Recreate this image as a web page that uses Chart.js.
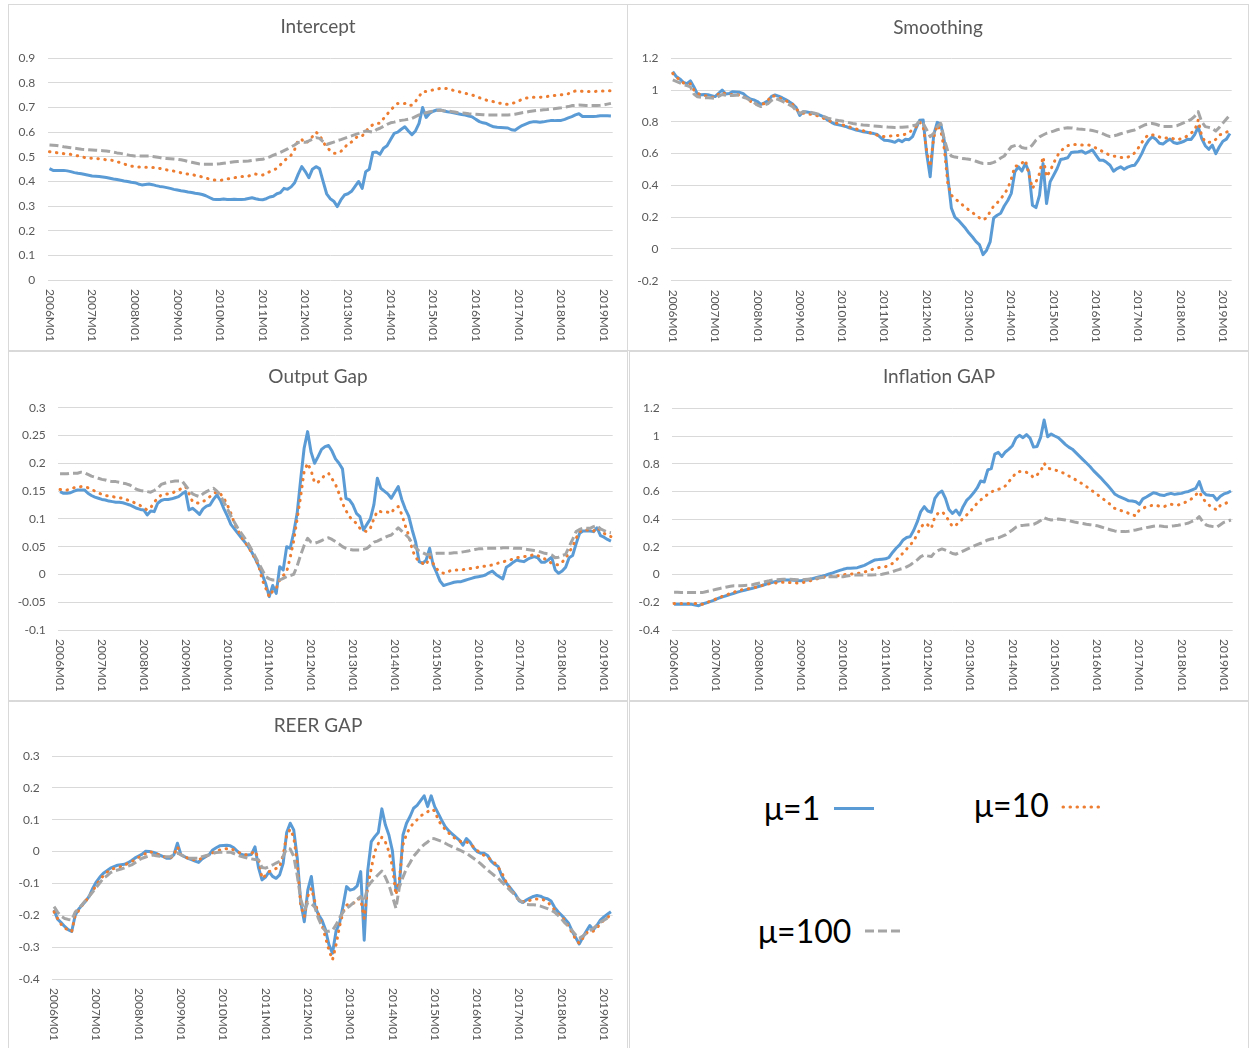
<!DOCTYPE html>
<html>
<head>
<meta charset="utf-8">
<script src="https://cdn.jsdelivr.net/npm/chart.js@4.4.1/dist/chart.umd.min.js"></script>
<style>
  html, body { margin: 0; padding: 0; background: #fff; }
  body { width: 1250px; height: 1048px; position: relative; overflow: hidden; font-family: Lato, "Open Sans", sans-serif; }
  .panel { position: absolute; box-sizing: border-box; border: 1px solid #D9D9D9; background: #fff; }
  .panel canvas { position: absolute; left: 0; top: 0; }
  .panel svg { position: absolute; left: 0; top: 0; }
</style>
</head>
<body>
<script>
// ---------------------------------------------------------------------------
// Monthly categories 2006M01 .. 2019M03
const FIRST_YEAR = 2006;
const MONTH_COUNT = 159;
const MONTHS = Array.from({ length: MONTH_COUNT }, (_, i) =>
  `${FIRST_YEAR + Math.floor(i / 12)}M${String((i % 12) + 1).padStart(2, '0')}`);

// Labels shown under each panel (one per January)
const AXIS_LABELS = ['2006M01', '2007M01', '2008M01', '2009M01', '2010M01', '2011M01', '2012M01',
  '2013M01', '2014M01', '2015M01', '2016M01', '2017M01', '2018M01', '2019M01'];

const SERIES_LABELS = ['μ=1', 'μ=10', 'μ=100'];

// ---------------------------------------------------------------------------
// Intercept
const interceptMu1 = [
  0.452, 0.445, 0.445, 0.445, 0.445, 0.443, 0.44, 0.436, 0.433, 0.431, 0.428, 0.425,
  0.422, 0.421, 0.42, 0.418, 0.416, 0.413, 0.41, 0.408, 0.405, 0.402, 0.4, 0.397,
  0.395, 0.39, 0.386, 0.388, 0.39, 0.387, 0.383, 0.38, 0.378, 0.375, 0.372, 0.368,
  0.365, 0.362, 0.36, 0.357, 0.355, 0.352, 0.35, 0.347, 0.342, 0.335, 0.328, 0.327,
  0.327, 0.329, 0.327, 0.327, 0.328, 0.327, 0.327, 0.328, 0.331, 0.334, 0.33, 0.327,
  0.326, 0.33, 0.337, 0.34, 0.35, 0.355, 0.372, 0.368, 0.378, 0.395, 0.43, 0.46,
  0.44, 0.415, 0.45, 0.46, 0.452, 0.4, 0.35, 0.33, 0.32, 0.298, 0.325, 0.345,
  0.35, 0.36, 0.38, 0.4, 0.372, 0.44, 0.45, 0.518, 0.52, 0.51, 0.535, 0.545,
  0.57, 0.595, 0.6, 0.612, 0.622, 0.605, 0.59, 0.605, 0.636, 0.7, 0.66, 0.677,
  0.685, 0.69, 0.69, 0.686, 0.683, 0.681, 0.678, 0.675, 0.672, 0.67, 0.666, 0.662,
  0.652, 0.643, 0.638, 0.635, 0.628, 0.622, 0.62, 0.619, 0.618, 0.617, 0.61, 0.608,
  0.618, 0.627, 0.633, 0.639, 0.642, 0.642, 0.64, 0.642, 0.645, 0.647, 0.647, 0.648,
  0.648, 0.652, 0.658, 0.663, 0.67, 0.675, 0.664, 0.664, 0.664, 0.664, 0.665, 0.667,
  0.667, 0.667, 0.666
];
const interceptMu10 = [
  0.521, 0.519, 0.517, 0.515, 0.513, 0.511, 0.51, 0.507, 0.504, 0.5, 0.497, 0.495,
  0.494, 0.493, 0.492, 0.49, 0.488, 0.487, 0.485, 0.48, 0.476, 0.471, 0.466, 0.462,
  0.46, 0.459, 0.459, 0.458, 0.458, 0.457, 0.457, 0.453, 0.45, 0.447, 0.444, 0.442,
  0.44, 0.435, 0.432, 0.43, 0.428, 0.425, 0.422, 0.418, 0.414, 0.41, 0.406, 0.405,
  0.405, 0.406, 0.41, 0.412, 0.415, 0.418, 0.42, 0.42, 0.422, 0.427, 0.43, 0.428,
  0.426, 0.433, 0.44, 0.446, 0.453, 0.468, 0.483, 0.495, 0.507, 0.53, 0.568, 0.57,
  0.555, 0.565, 0.582, 0.6, 0.59, 0.56, 0.54, 0.525, 0.515, 0.515, 0.522, 0.535,
  0.555, 0.56, 0.575, 0.585, 0.585, 0.6, 0.622, 0.63, 0.636, 0.636, 0.655, 0.672,
  0.69, 0.704, 0.717, 0.717, 0.717, 0.708, 0.71, 0.725, 0.745, 0.765, 0.765, 0.768,
  0.772, 0.775, 0.778, 0.778, 0.777, 0.773, 0.768, 0.765, 0.762, 0.758, 0.754, 0.751,
  0.745, 0.74, 0.735, 0.73, 0.727, 0.724, 0.72, 0.717, 0.714, 0.713, 0.716, 0.72,
  0.727, 0.733, 0.738, 0.74, 0.742, 0.742, 0.742, 0.743, 0.745, 0.747, 0.749, 0.751,
  0.752, 0.754, 0.756, 0.765, 0.767, 0.768, 0.766, 0.765, 0.765, 0.765, 0.766, 0.767,
  0.767, 0.768, 0.768
];
const interceptMu100 = [
  0.548, 0.547, 0.546, 0.544, 0.541, 0.539, 0.537, 0.535, 0.533, 0.531, 0.53, 0.529,
  0.528, 0.527, 0.526, 0.525, 0.524, 0.522, 0.519, 0.516, 0.514, 0.511, 0.508, 0.505,
  0.503, 0.503, 0.503, 0.503, 0.503, 0.501, 0.499, 0.497, 0.494, 0.493, 0.492, 0.491,
  0.49, 0.488, 0.485, 0.481, 0.478, 0.475, 0.472, 0.47, 0.47, 0.47, 0.47, 0.471,
  0.472, 0.474, 0.476, 0.478, 0.48, 0.481, 0.482, 0.482, 0.483, 0.485, 0.487, 0.489,
  0.49, 0.495, 0.5, 0.507, 0.512, 0.518, 0.525, 0.532, 0.54, 0.548, 0.558, 0.56,
  0.559, 0.565, 0.572, 0.578, 0.575, 0.562, 0.55, 0.555, 0.56, 0.566, 0.57, 0.575,
  0.58, 0.585, 0.59, 0.595, 0.6, 0.605, 0.603, 0.6, 0.61, 0.616, 0.624, 0.632,
  0.638, 0.641, 0.645, 0.648, 0.65, 0.653, 0.656, 0.663, 0.67, 0.675, 0.679, 0.683,
  0.686, 0.688, 0.689, 0.687, 0.686, 0.684, 0.682, 0.679, 0.678, 0.677, 0.675, 0.674,
  0.673, 0.672, 0.671, 0.67, 0.67, 0.67, 0.67, 0.67, 0.67, 0.67, 0.671, 0.673,
  0.676, 0.679, 0.681, 0.684, 0.686, 0.688, 0.689, 0.691, 0.692, 0.694, 0.695, 0.697,
  0.699, 0.702, 0.704, 0.708, 0.709, 0.71, 0.709, 0.708, 0.708, 0.708, 0.708, 0.709,
  0.711, 0.714, 0.717
];

// Smoothing
const smoothingMu1 = [
  1.116, 1.085, 1.07, 1.049, 1.04, 1.058, 1.02, 0.975, 0.97, 0.972, 0.97, 0.965,
  0.959, 0.98, 1.0, 0.975, 0.978, 0.99, 0.988, 0.986, 0.978, 0.958, 0.944, 0.938,
  0.928, 0.91, 0.92, 0.932, 0.96, 0.969, 0.962, 0.952, 0.94, 0.927, 0.912, 0.89,
  0.84, 0.864, 0.862, 0.858, 0.852, 0.847, 0.84, 0.828, 0.81, 0.797, 0.786, 0.781,
  0.776, 0.771, 0.763, 0.756, 0.748, 0.743, 0.738, 0.734, 0.73, 0.726, 0.72, 0.7,
  0.684, 0.682, 0.678, 0.671, 0.686, 0.675, 0.69, 0.688, 0.707, 0.76, 0.81, 0.812,
  0.6, 0.455, 0.72, 0.797, 0.785, 0.68, 0.45, 0.258, 0.2, 0.18, 0.155, 0.13,
  0.1, 0.075, 0.046, 0.025, -0.036, -0.008, 0.044, 0.195, 0.212, 0.225, 0.27, 0.305,
  0.35, 0.485, 0.517, 0.49, 0.538, 0.485, 0.275, 0.26, 0.338, 0.538, 0.286, 0.422,
  0.464, 0.506, 0.563, 0.568, 0.574, 0.607, 0.61, 0.612, 0.617, 0.602, 0.612, 0.623,
  0.59, 0.559, 0.559, 0.545, 0.527, 0.489, 0.506, 0.517, 0.502, 0.515, 0.523, 0.527,
  0.559, 0.6, 0.65, 0.685, 0.706, 0.69, 0.665, 0.66, 0.678, 0.691, 0.67, 0.664,
  0.67, 0.678, 0.691, 0.689, 0.72, 0.769, 0.695, 0.65, 0.627, 0.653, 0.6, 0.643,
  0.678, 0.691, 0.727
];
const smoothingMu10 = [
  1.105, 1.08, 1.065, 1.045, 1.04, 1.04, 1.0, 0.98, 0.97, 0.965, 0.96, 0.956,
  0.952, 0.975, 0.985, 0.975, 0.97, 0.972, 0.973, 0.968, 0.96, 0.945, 0.93, 0.918,
  0.908, 0.91, 0.915, 0.935, 0.965, 0.962, 0.952, 0.944, 0.935, 0.92, 0.91, 0.88,
  0.862, 0.854, 0.852, 0.848, 0.845, 0.838, 0.83, 0.82, 0.81, 0.802, 0.795, 0.788,
  0.782, 0.775, 0.768, 0.762, 0.755, 0.75, 0.744, 0.738, 0.731, 0.724, 0.716, 0.708,
  0.707, 0.709, 0.712, 0.713, 0.715, 0.717, 0.722, 0.733, 0.75, 0.77, 0.8, 0.77,
  0.62, 0.518, 0.7, 0.78, 0.745, 0.63, 0.41, 0.339, 0.315, 0.3, 0.28, 0.262,
  0.244, 0.228, 0.212, 0.195, 0.182, 0.196, 0.235, 0.27, 0.29, 0.315, 0.345, 0.38,
  0.44, 0.52, 0.525, 0.54, 0.559, 0.47, 0.38, 0.422, 0.475, 0.58, 0.454, 0.49,
  0.54, 0.585, 0.615, 0.635, 0.65, 0.657, 0.657, 0.656, 0.654, 0.654, 0.654, 0.645,
  0.635, 0.623, 0.612, 0.6, 0.59, 0.585, 0.58, 0.576, 0.574, 0.578, 0.585, 0.605,
  0.635, 0.67, 0.7, 0.72, 0.718, 0.713, 0.705, 0.696, 0.698, 0.7, 0.693, 0.686,
  0.693, 0.7, 0.712, 0.73, 0.745, 0.812, 0.71, 0.675, 0.671, 0.673, 0.69, 0.717,
  0.725, 0.735, 0.745
];
const smoothingMu100 = [
  1.064, 1.055, 1.045, 1.035, 1.028, 1.02, 0.975, 0.958, 0.955, 0.952, 0.951, 0.95,
  0.948, 0.96, 0.972, 0.968, 0.965, 0.966, 0.968, 0.969, 0.955, 0.948, 0.935, 0.922,
  0.905, 0.896, 0.905, 0.915, 0.935, 0.948, 0.94, 0.93, 0.92, 0.908, 0.896, 0.87,
  0.854, 0.864, 0.862, 0.86, 0.856, 0.85, 0.842, 0.832, 0.823, 0.818, 0.812, 0.808,
  0.805, 0.8, 0.795, 0.79, 0.786, 0.783, 0.78, 0.778, 0.776, 0.774, 0.772, 0.77,
  0.769, 0.767, 0.766, 0.765, 0.765, 0.766, 0.768, 0.77, 0.775, 0.78, 0.805, 0.79,
  0.75, 0.707, 0.728, 0.77, 0.79, 0.69, 0.615, 0.585, 0.578, 0.575, 0.57, 0.567,
  0.565, 0.559, 0.552, 0.544, 0.538, 0.538, 0.538, 0.545, 0.555, 0.572, 0.585, 0.615,
  0.643, 0.65, 0.657, 0.638, 0.633, 0.633, 0.655, 0.685, 0.705, 0.717, 0.728, 0.734,
  0.742, 0.75, 0.756, 0.76, 0.763, 0.762, 0.759, 0.755, 0.753, 0.751, 0.749, 0.745,
  0.74, 0.734, 0.725, 0.715, 0.707, 0.712, 0.717, 0.725, 0.732, 0.738, 0.744, 0.749,
  0.76, 0.772, 0.782, 0.787, 0.79, 0.785, 0.777, 0.77, 0.77, 0.77, 0.772, 0.776,
  0.785, 0.795, 0.805, 0.815, 0.835, 0.864, 0.8, 0.77, 0.765, 0.759, 0.742, 0.765,
  0.792, 0.818, 0.843
];

// Output Gap
const outputMu1 = [
  0.149, 0.146, 0.146, 0.147, 0.15, 0.152, 0.152, 0.152, 0.146, 0.142, 0.139, 0.137,
  0.135, 0.134, 0.132, 0.131, 0.13, 0.13, 0.129, 0.127, 0.125, 0.122, 0.119, 0.117,
  0.116, 0.107, 0.114, 0.113, 0.128, 0.133, 0.135, 0.135, 0.136, 0.138, 0.14, 0.145,
  0.149, 0.116, 0.119, 0.114, 0.108, 0.118, 0.123, 0.125, 0.135, 0.143, 0.133, 0.118,
  0.105, 0.09, 0.082, 0.074, 0.066, 0.058, 0.05, 0.04, 0.028, 0.015, 0.0, -0.017,
  -0.04, -0.02, -0.034, 0.014, 0.008, 0.05, 0.047, 0.075, 0.11, 0.17, 0.227, 0.257,
  0.22, 0.2, 0.212, 0.225, 0.23, 0.232, 0.222, 0.208, 0.2, 0.19, 0.137, 0.134,
  0.125, 0.11, 0.104, 0.08, 0.09, 0.1, 0.125, 0.173, 0.155, 0.15, 0.145, 0.137,
  0.148, 0.158, 0.135, 0.118, 0.105, 0.08, 0.058, 0.023, 0.02, 0.026, 0.047, 0.017,
  0.003, -0.012, -0.02, -0.018, -0.016, -0.014, -0.013, -0.013, -0.011, -0.009, -0.007, -0.005,
  -0.004, -0.003, -0.001, 0.003, 0.006, 0.0, -0.004, -0.008, 0.013, 0.017, 0.022, 0.026,
  0.024, 0.023, 0.027, 0.03, 0.032, 0.03, 0.022, 0.022, 0.026, 0.031, 0.008, 0.002,
  0.006, 0.013, 0.03, 0.034, 0.055, 0.074, 0.078, 0.078, 0.078, 0.077, 0.084, 0.07,
  0.067, 0.063, 0.06
];
const outputMu10 = [
  0.153, 0.152, 0.152, 0.154, 0.156, 0.157, 0.158, 0.158, 0.156, 0.153, 0.15, 0.147,
  0.144, 0.142, 0.141, 0.14, 0.139, 0.138, 0.137, 0.135, 0.132, 0.13, 0.127, 0.124,
  0.12, 0.116, 0.12, 0.13, 0.137, 0.143, 0.144, 0.145, 0.146, 0.149, 0.152, 0.155,
  0.158, 0.145, 0.131, 0.129, 0.128, 0.131, 0.135, 0.14, 0.145, 0.149, 0.145, 0.137,
  0.125, 0.11, 0.092, 0.08, 0.068, 0.058, 0.05, 0.038, 0.028, 0.015, -0.01, -0.025,
  -0.04, -0.03, -0.025, -0.01, -0.002, 0.005, 0.03, 0.06, 0.1, 0.14, 0.185, 0.2,
  0.187, 0.165, 0.166, 0.172, 0.179, 0.182, 0.172, 0.162, 0.146, 0.128, 0.115, 0.104,
  0.097, 0.092, 0.083, 0.079, 0.077, 0.083, 0.1, 0.114, 0.113, 0.113, 0.112, 0.11,
  0.12, 0.122, 0.108, 0.088, 0.07, 0.045, 0.03, 0.024, 0.02, 0.017, 0.032, 0.02,
  0.01, 0.005, 0.002, 0.004, 0.007, 0.008, 0.008, 0.008, 0.009, 0.01, 0.011, 0.012,
  0.013, 0.014, 0.015, 0.016, 0.017, 0.019, 0.021, 0.023, 0.024, 0.026, 0.028, 0.03,
  0.031, 0.032, 0.033, 0.034, 0.036, 0.034, 0.031, 0.028, 0.024, 0.02, 0.018, 0.017,
  0.022, 0.029, 0.04, 0.05, 0.065, 0.077, 0.079, 0.08, 0.079, 0.078, 0.084, 0.08,
  0.074, 0.07, 0.068
];
const outputMu100 = [
  0.181, 0.181, 0.181, 0.182, 0.182, 0.182, 0.184, 0.183, 0.18, 0.177, 0.175, 0.173,
  0.171, 0.17, 0.168, 0.167, 0.167, 0.166, 0.164, 0.163, 0.161, 0.157, 0.153, 0.151,
  0.15, 0.149, 0.148, 0.151, 0.155, 0.162, 0.164, 0.166, 0.167, 0.168, 0.168, 0.168,
  0.16, 0.152, 0.145, 0.142, 0.14, 0.145, 0.149, 0.152, 0.155, 0.15, 0.142, 0.13,
  0.118, 0.105, 0.094, 0.083, 0.074, 0.065, 0.055, 0.044, 0.032, 0.02, 0.008, -0.004,
  -0.008, -0.01, -0.01, -0.01, -0.007, -0.004, -0.002, 0.0, 0.015, 0.035, 0.052, 0.065,
  0.058, 0.056, 0.058, 0.061, 0.064, 0.066, 0.063, 0.059, 0.055, 0.05, 0.047, 0.045,
  0.044, 0.044, 0.044, 0.045, 0.047, 0.052, 0.058, 0.06, 0.063, 0.066, 0.069, 0.071,
  0.077, 0.084, 0.078, 0.072, 0.066, 0.056, 0.048, 0.042, 0.039, 0.036, 0.036, 0.037,
  0.038, 0.038, 0.038, 0.038, 0.038, 0.039, 0.039, 0.04, 0.041, 0.042, 0.044, 0.045,
  0.046, 0.046, 0.047, 0.047, 0.047, 0.047, 0.047, 0.048, 0.048, 0.048, 0.047, 0.047,
  0.047, 0.046, 0.045, 0.044, 0.043, 0.042, 0.04, 0.038, 0.037, 0.035, 0.03, 0.031,
  0.034, 0.036, 0.05, 0.063, 0.077, 0.081, 0.083, 0.083, 0.083, 0.086, 0.088, 0.082,
  0.079, 0.076, 0.075
];

// Inflation GAP
const inflationMu1 = [
  -0.215, -0.215, -0.215, -0.215, -0.215, -0.215, -0.22, -0.225, -0.212, -0.205, -0.197, -0.188,
  -0.178, -0.167, -0.159, -0.151, -0.143, -0.135, -0.127, -0.119, -0.113, -0.106, -0.1, -0.093,
  -0.086, -0.079, -0.07, -0.062, -0.056, -0.05, -0.044, -0.039, -0.039, -0.039, -0.041, -0.043,
  -0.044, -0.041, -0.039, -0.032, -0.025, -0.018, -0.012, -0.005, 0.004, 0.012, 0.021, 0.03,
  0.038, 0.045, 0.046, 0.048, 0.05, 0.058, 0.066, 0.08, 0.093, 0.106, 0.108, 0.111,
  0.114, 0.125, 0.16, 0.19, 0.214, 0.25, 0.268, 0.274, 0.32, 0.38, 0.455, 0.49,
  0.459, 0.45, 0.55, 0.586, 0.603, 0.55, 0.47, 0.441, 0.466, 0.43, 0.49, 0.535,
  0.56, 0.59, 0.625, 0.675, 0.668, 0.755, 0.765, 0.87, 0.882, 0.851, 0.885, 0.905,
  0.93, 0.985, 1.005, 0.988, 1.01, 0.985, 0.92, 0.925, 0.99, 1.115, 0.995, 1.015,
  1.0, 0.988, 0.965, 0.94, 0.92, 0.905, 0.88, 0.855, 0.83, 0.805, 0.78, 0.75,
  0.725, 0.7, 0.672, 0.645, 0.615, 0.582, 0.567, 0.556, 0.545, 0.532, 0.531, 0.525,
  0.507, 0.546, 0.56, 0.575, 0.59, 0.585, 0.574, 0.57, 0.58, 0.586, 0.579, 0.584,
  0.586, 0.595, 0.6, 0.612, 0.622, 0.671, 0.598, 0.576, 0.572, 0.57, 0.538, 0.565,
  0.582, 0.59, 0.603
];
const inflationMu10 = [
  -0.208, -0.208, -0.208, -0.208, -0.208, -0.208, -0.208, -0.212, -0.215, -0.205, -0.195, -0.185,
  -0.175, -0.163, -0.155, -0.146, -0.135, -0.127, -0.119, -0.111, -0.107, -0.103, -0.1, -0.093,
  -0.086, -0.078, -0.072, -0.066, -0.062, -0.06, -0.056, -0.056, -0.056, -0.058, -0.062, -0.061,
  -0.058, -0.056, -0.05, -0.042, -0.034, -0.028, -0.022, -0.016, -0.013, -0.011, -0.01, -0.006,
  -0.002, 0.002, 0.004, 0.006, 0.008, 0.013, 0.018, 0.026, 0.035, 0.045, 0.05, 0.054,
  0.057, 0.065, 0.081, 0.105, 0.129, 0.157, 0.185, 0.212, 0.245, 0.29, 0.34, 0.37,
  0.358, 0.334, 0.418, 0.445, 0.454, 0.43, 0.385, 0.346, 0.358, 0.38, 0.405, 0.43,
  0.455, 0.485, 0.515, 0.538, 0.56, 0.579, 0.595, 0.61, 0.616, 0.622, 0.64, 0.672,
  0.7, 0.735, 0.743, 0.743, 0.738, 0.724, 0.7, 0.72, 0.745, 0.803, 0.767, 0.762,
  0.755, 0.748, 0.738, 0.726, 0.712, 0.698, 0.683, 0.668, 0.652, 0.635, 0.616, 0.598,
  0.579, 0.56, 0.541, 0.522, 0.5, 0.478, 0.468, 0.46, 0.453, 0.442, 0.43, 0.425,
  0.466, 0.478, 0.49, 0.495, 0.502, 0.498, 0.492, 0.49, 0.5, 0.507, 0.504, 0.502,
  0.51, 0.521, 0.532, 0.55, 0.575, 0.598, 0.55, 0.52, 0.497, 0.48, 0.466, 0.5,
  0.507, 0.521, 0.53
];
const inflationMu100 = [
  -0.128, -0.128, -0.129, -0.129, -0.13, -0.13, -0.13, -0.13, -0.13, -0.124, -0.118, -0.112,
  -0.106, -0.1, -0.094, -0.089, -0.084, -0.08, -0.08, -0.08, -0.078, -0.077, -0.075, -0.068,
  -0.062, -0.056, -0.05, -0.045, -0.039, -0.037, -0.035, -0.034, -0.034, -0.034, -0.035, -0.037,
  -0.039, -0.036, -0.033, -0.03, -0.027, -0.024, -0.021, -0.018, -0.015, -0.015, -0.015, -0.015,
  -0.015, -0.011, -0.007, -0.003, -0.003, -0.003, -0.003, -0.003, -0.003, -0.002, 0.0, 0.002,
  0.008, 0.014, 0.021, 0.03, 0.038, 0.045, 0.056, 0.069, 0.088, 0.106, 0.13, 0.142,
  0.135, 0.13, 0.162, 0.175, 0.185, 0.176, 0.166, 0.152, 0.147, 0.16, 0.17, 0.182,
  0.194, 0.205, 0.216, 0.226, 0.237, 0.25, 0.257, 0.261, 0.265, 0.275, 0.286, 0.305,
  0.322, 0.342, 0.353, 0.355, 0.358, 0.36, 0.363, 0.375, 0.39, 0.411, 0.4, 0.394,
  0.398, 0.401, 0.398, 0.394, 0.389, 0.383, 0.377, 0.372, 0.368, 0.363, 0.36, 0.357,
  0.353, 0.345, 0.337, 0.329, 0.322, 0.315, 0.31, 0.31, 0.31, 0.313, 0.318, 0.322,
  0.328, 0.333, 0.339, 0.344, 0.349, 0.353, 0.35, 0.347, 0.346, 0.349, 0.352, 0.356,
  0.361, 0.366, 0.372, 0.385, 0.394, 0.418, 0.382, 0.358, 0.35, 0.346, 0.342, 0.36,
  0.377, 0.385, 0.394
];

// REER GAP
const reerMu1 = [
  -0.183, -0.212, -0.223, -0.235, -0.245, -0.251, -0.2, -0.18, -0.168, -0.155, -0.14, -0.115,
  -0.095, -0.08, -0.068, -0.06, -0.052, -0.047, -0.043, -0.041, -0.04, -0.035, -0.028, -0.02,
  -0.014, -0.008, 0.001, 0.0, -0.002, -0.006, -0.011, -0.016, -0.021, -0.021, -0.01, 0.026,
  -0.01, -0.016, -0.021, -0.025, -0.03, -0.034, -0.023, -0.016, -0.01, 0.005, 0.012, 0.018,
  0.019, 0.02, 0.018, 0.012, 0.001, -0.008, -0.011, -0.011, -0.009, 0.015, -0.05, -0.089,
  -0.08, -0.063, -0.078, -0.084, -0.073, -0.037, 0.06, 0.089, 0.068, -0.02, -0.16, -0.22,
  -0.12, -0.078, -0.17, -0.198, -0.215, -0.245, -0.293, -0.319, -0.25, -0.225, -0.17, -0.11,
  -0.121, -0.118, -0.108, -0.063, -0.278, -0.06, 0.031, 0.047, 0.06, 0.134, 0.084, 0.052,
  0.002, -0.121, -0.105, 0.052, 0.089, 0.11, 0.136, 0.145, 0.16, 0.175, 0.141, 0.175,
  0.141, 0.12, 0.098, 0.078, 0.065, 0.055, 0.045, 0.036, 0.02, 0.041, 0.03, 0.012,
  0.0, -0.005, -0.005, -0.012, -0.03, -0.04, -0.047, -0.075, -0.095, -0.108, -0.122, -0.136,
  -0.155, -0.16, -0.152, -0.146, -0.141, -0.138, -0.14, -0.146, -0.148, -0.155, -0.175, -0.189,
  -0.2, -0.212, -0.225, -0.25, -0.27, -0.29, -0.27, -0.25, -0.232, -0.246, -0.232, -0.215,
  -0.205, -0.197, -0.189
];
const reerMu10 = [
  -0.189, -0.21, -0.228, -0.24, -0.246, -0.251, -0.2, -0.185, -0.168, -0.155, -0.14, -0.123,
  -0.105, -0.088, -0.076, -0.065, -0.057, -0.053, -0.05, -0.047, -0.042, -0.037, -0.032, -0.025,
  -0.018, -0.013, -0.006, 0.0, -0.003, -0.007, -0.011, -0.015, -0.019, -0.02, -0.011, 0.015,
  -0.01, -0.016, -0.021, -0.025, -0.026, -0.026, -0.02, -0.015, -0.01, -0.004, 0.002, 0.005,
  0.007, 0.009, 0.01, 0.005, 0.0, -0.006, -0.009, -0.011, -0.006, 0.002, -0.021, -0.084,
  -0.075, -0.063, -0.058, -0.053, -0.049, -0.01, 0.05, 0.07, 0.045, -0.035, -0.17, -0.204,
  -0.14, -0.115, -0.157, -0.195, -0.23, -0.27, -0.31, -0.34, -0.293, -0.235, -0.19, -0.168,
  -0.165, -0.162, -0.148, -0.15, -0.21, -0.11, -0.053, 0.0, 0.025, 0.045, 0.03, 0.0,
  -0.047, -0.136, -0.084, 0.021, 0.055, 0.075, 0.09, 0.1, 0.112, 0.118, 0.125, 0.133,
  0.128, 0.099, 0.082, 0.07, 0.058, 0.047, 0.04, 0.033, 0.029, 0.03, 0.025, 0.015,
  0.004, -0.005, -0.012, -0.018, -0.026, -0.035, -0.05, -0.065, -0.09, -0.11, -0.124, -0.14,
  -0.155, -0.157, -0.157, -0.153, -0.149, -0.149, -0.149, -0.152, -0.158, -0.17, -0.183, -0.195,
  -0.205, -0.218, -0.235, -0.255, -0.275, -0.288, -0.272, -0.256, -0.249, -0.25, -0.24, -0.227,
  -0.215, -0.207, -0.199
];
const reerMu100 = [
  -0.173, -0.19, -0.203, -0.21, -0.213, -0.215, -0.19, -0.178, -0.166, -0.152, -0.14, -0.126,
  -0.112, -0.098, -0.084, -0.076, -0.066, -0.061, -0.058, -0.055, -0.051, -0.046, -0.042, -0.035,
  -0.027, -0.021, -0.017, -0.013, -0.011, -0.013, -0.015, -0.016, -0.016, -0.016, -0.01, -0.005,
  -0.01, -0.016, -0.021, -0.021, -0.021, -0.021, -0.016, -0.013, -0.01, -0.006, -0.003, -0.002,
  -0.002, -0.002, -0.002, -0.006, -0.011, -0.015, -0.018, -0.021, -0.023, -0.025, -0.026, -0.05,
  -0.052, -0.047, -0.042, -0.036, -0.031, -0.015, 0.01, 0.008, -0.015, -0.075, -0.15, -0.185,
  -0.16, -0.163, -0.175, -0.21, -0.235, -0.25, -0.25, -0.247, -0.23, -0.208, -0.19, -0.178,
  -0.17, -0.16, -0.15, -0.141, -0.157, -0.11, -0.095, -0.084, -0.072, -0.061, -0.08, -0.105,
  -0.14, -0.178, -0.11, -0.08, -0.053, -0.035, -0.015, -0.002, 0.012, 0.022, 0.03, 0.041,
  0.04, 0.036, 0.032, 0.026, 0.02, 0.015, 0.01, 0.005, 0.0, -0.005, -0.013, -0.021,
  -0.029, -0.038, -0.048, -0.058, -0.067, -0.076, -0.084, -0.095, -0.106, -0.117, -0.128, -0.14,
  -0.152, -0.16, -0.166, -0.167, -0.167, -0.168, -0.171, -0.175, -0.179, -0.184, -0.19, -0.2,
  -0.212, -0.225, -0.235, -0.248, -0.262, -0.272, -0.265, -0.257, -0.249, -0.241, -0.232, -0.222,
  -0.215, -0.209, -0.207
];

// ---------------------------------------------------------------------------
// Panel layout: border box [left, top, width, height] and the plot area
// inside the canvas [left, top, right, bottom]; value axis range.
const PANELS = [
  { title: 'Intercept', box: [8, 4, 620, 347], area: [38.7, 53.3, 603.7, 275], titleY: 22,
    min: 0, max: 0.9, step: 0.1, series: [interceptMu1, interceptMu10, interceptMu100] },
  { title: 'Smoothing', box: [627, 4, 622, 347], area: [43, 53.3, 603.7, 275.7], titleY: 23,
    min: -0.2, max: 1.2, step: 0.2, series: [smoothingMu1, smoothingMu10, smoothingMu100] },
  { title: 'Output Gap', box: [8, 351, 620, 350], area: [49.3, 55.7, 603.7, 278], titleY: 25,
    min: -0.1, max: 0.3, step: 0.05, series: [outputMu1, outputMu10, outputMu100] },
  { title: 'Inflation GAP', box: [629, 351, 620, 350], area: [42.3, 56.3, 602.7, 278], titleY: 25,
    min: -0.4, max: 1.2, step: 0.2, series: [inflationMu1, inflationMu10, inflationMu100] },
  { title: 'REER GAP', box: [8, 701, 620, 350], area: [43.3, 54, 603.7, 277], titleY: 24,
    min: -0.4, max: 0.3, step: 0.1, series: [reerMu1, reerMu10, reerMu100] }
];

const LINE_STYLES = [
  { color: '#5B9BD5', dash: [], cap: 'butt', order: 3 },
  { color: '#ED7D31', dash: [0.5, 6.5], cap: 'round', order: 2 },
  { color: '#A5A5A5', dash: [9, 4], cap: 'butt', order: 1 }
];

const TEXT_GREY = '#595959';
const FONT = 'Lato';

// Year labels under the plot, rotated to read top to bottom
const yearLabels = {
  id: 'yearLabels',
  afterDraw(chart) {
    const xs = chart.scales.x;
    const ctx = chart.ctx;
    ctx.save();
    ctx.font = `12px ${FONT}`;
    ctx.fillStyle = TEXT_GREY;
    ctx.textAlign = 'left';
    ctx.textBaseline = 'middle';
    AXIS_LABELS.forEach(lab => {
      const idx = MONTHS.indexOf(lab);
      if (idx < 0) return;
      ctx.save();
      ctx.translate(xs.getPixelForValue(idx), chart.chartArea.bottom + 9);
      ctx.rotate(Math.PI / 2);
      ctx.fillText(lab, 0, 0);
      ctx.restore();
    });
    ctx.restore();
  }
};

function fmtTick(v) {
  return String(Math.round(v * 1000) / 1000);
}

function makePanel(p) {
  const [bx, by, bw, bh] = p.box;
  const div = document.createElement('div');
  div.className = 'panel';
  Object.assign(div.style, { left: bx + 'px', top: by + 'px', width: bw + 'px', height: bh + 'px' });
  const cw = bw - 2, ch = bh - 2;
  const canvas = document.createElement('canvas');
  canvas.width = cw; canvas.height = ch;
  canvas.style.width = cw + 'px'; canvas.style.height = ch + 'px';
  div.appendChild(canvas);
  document.body.appendChild(div);

  const [aL, aT, aR, aB] = p.area;
  const rightGap = cw - aR;        // empty strip right of the plot
  const xHeight = ch - aB;
  const titleSize = 19, titleLH = 1.2;
  const half = titleSize * titleLH / 2;

  new Chart(canvas, {
    type: 'line',
    data: {
      labels: MONTHS,
      datasets: p.series.map((data, k) => ({
        label: SERIES_LABELS[k],
        data,
        borderColor: LINE_STYLES[k].color,
        backgroundColor: LINE_STYLES[k].color,
        borderWidth: 3,
        borderDash: LINE_STYLES[k].dash,
        borderCapStyle: LINE_STYLES[k].cap,
        borderJoinStyle: 'round',
        pointRadius: 0,
        pointHoverRadius: 0,
        tension: 0,
        fill: false,
        order: LINE_STYLES[k].order
      }))
    },
    options: {
      responsive: false,
      animation: false,
      devicePixelRatio: 1,
      events: [],
      layout: { padding: 0 },
      plugins: {
        legend: { display: false },
        tooltip: { enabled: false },
        title: {
          display: true,
          text: p.title,
          color: TEXT_GREY,
          font: { family: FONT, size: titleSize, weight: 'normal', lineHeight: titleLH },
          padding: { top: p.titleY - half, bottom: aT - p.titleY - half }
        }
      },
      scales: {
        x: {
          type: 'category',
          offset: true,
          grid: { display: false },
          border: { display: false },
          ticks: { display: false },
          afterFit: s => { s.height = xHeight; }
        },
        y: {
          position: 'left',
          min: p.min,
          max: p.max,
          border: { display: false },
          grid: { color: '#D9D9D9', lineWidth: 1, drawTicks: false },
          ticks: {
            stepSize: p.step,
            padding: 12.5,
            color: TEXT_GREY,
            font: { family: FONT, size: 12 },
            callback: v => fmtTick(v)
          },
          afterFit: s => { s.width = aL; }
        },
        // blank strip on the right so the plot ends short of the panel edge
        yGap: {
          type: 'linear',
          position: 'right',
          display: true,
          grid: { display: false, drawOnChartArea: false },
          border: { display: false },
          ticks: { display: false },
          afterFit: s => { s.width = rightGap; }
        }
      }
    },
    plugins: [yearLabels]
  });
}

PANELS.forEach(makePanel);

// Key panel
(function makeKey() {
  const div = document.createElement('div');
  div.className = 'panel';
  Object.assign(div.style, { left: '629px', top: '701px', width: '620px', height: '350px' });
  const NS = 'http://www.w3.org/2000/svg';
  const svg = document.createElementNS(NS, 'svg');
  svg.setAttribute('width', '618');
  svg.setAttribute('height', '348');
  const items = [
    { text: SERIES_LABELS[0], tx: 134, ty: 118, x1: 204, x2: 244, y: 106.5 },
    { text: SERIES_LABELS[1], tx: 344, ty: 115, x1: 433, x2: 471, y: 105 },
    { text: SERIES_LABELS[2], tx: 128, ty: 241, x1: 235, x2: 273, y: 229 }
  ];
  items.forEach((it, k) => {
    const t = document.createElementNS(NS, 'text');
    t.setAttribute('x', it.tx);
    t.setAttribute('y', it.ty);
    t.setAttribute('font-family', FONT);
    t.setAttribute('font-size', '32');
    t.setAttribute('fill', '#000');
    t.textContent = it.text;
    svg.appendChild(t);
    const l = document.createElementNS(NS, 'line');
    l.setAttribute('x1', it.x1); l.setAttribute('x2', it.x2);
    l.setAttribute('y1', it.y); l.setAttribute('y2', it.y);
    l.setAttribute('stroke', LINE_STYLES[k].color);
    l.setAttribute('stroke-width', '3');
    l.setAttribute('stroke-linecap', LINE_STYLES[k].cap);
    if (LINE_STYLES[k].dash.length) l.setAttribute('stroke-dasharray', LINE_STYLES[k].dash.join(' '));
    svg.appendChild(l);
  });
  div.appendChild(svg);
  document.body.appendChild(div);
})();
</script>
</body>
</html>
